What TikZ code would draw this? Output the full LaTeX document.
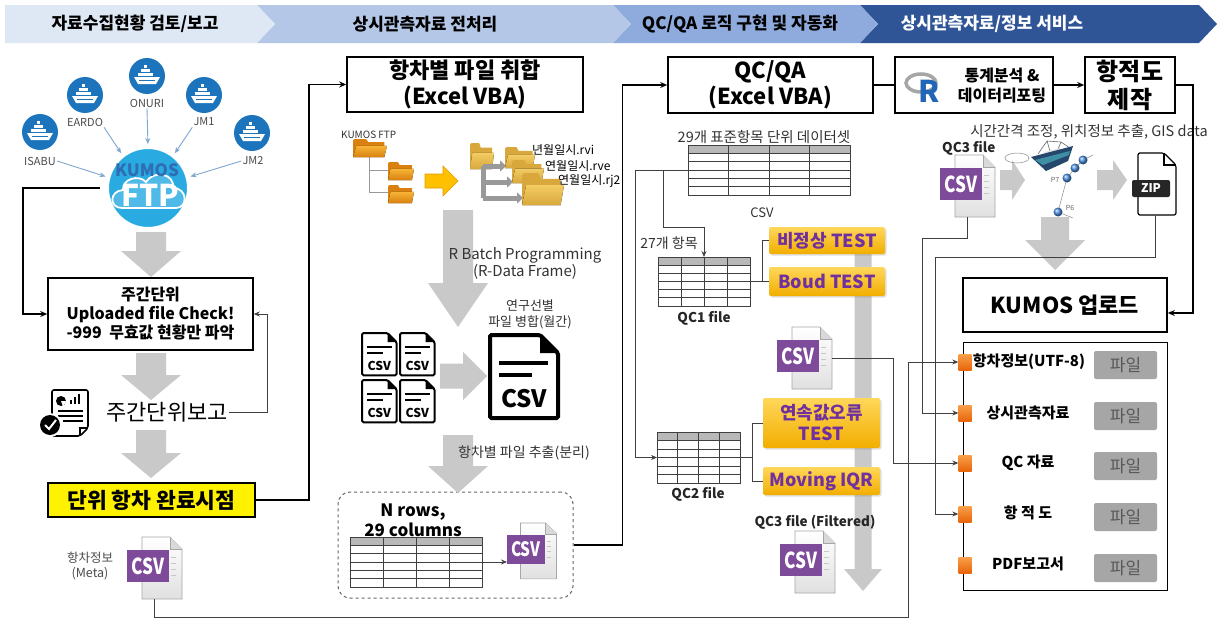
\documentclass[tikz,border=0pt]{standalone}
\usepackage{fontspec}
\usepackage{graphicx}
\setmainfont{Noto Sans CJK KR}
\usetikzlibrary{arrows.meta,calc,shadows}

\definecolor{hdrA}{HTML}{DEE8F5}
\definecolor{hdrB}{HTML}{B4C7E7}
\definecolor{hdrC}{HTML}{8FAADC}
\definecolor{hdrD}{HTML}{2F5597}
\definecolor{shipblue}{HTML}{1C75BC}
\definecolor{ftpblue}{HTML}{29ABE2}
\definecolor{kblue}{HTML}{2E6DB4}
\definecolor{arrgray}{HTML}{C9C9C9}
\definecolor{csvpurple}{HTML}{7E4A9A}
\definecolor{testtop}{HTML}{FFD75A}
\definecolor{testbot}{HTML}{F2AE00}
\definecolor{testtext}{HTML}{7030A0}
\definecolor{sqtop}{HTML}{F9A04A}
\definecolor{sqbot}{HTML}{E8650A}
\definecolor{filegray}{HTML}{A6A6A6}
\definecolor{linkblue}{HTML}{7FA7D0}
\definecolor{folddark}{HTML}{D9800F}
\definecolor{foldlight}{HTML}{F7B437}
\definecolor{tandark}{HTML}{D9A83C}
\definecolor{tanlight}{HTML}{F2CB63}
\definecolor{yarrow}{HTML}{FFC000}
\definecolor{yarrowline}{HTML}{E59A00}
\definecolor{boatdark}{HTML}{24476B}
\definecolor{boatteal}{HTML}{3E8FA3}
\definecolor{dotblue}{HTML}{4A90E2}
\definecolor{rblue}{HTML}{2266B8}

\newcommand\fs[2]{\fontsize{#1}{#2}\selectfont}

% solid grey block arrows
\newcommand\bigdown[7]{% style, x, ytop, ytip, shaft half, head half, head length
  \fill[#1] ({#2-#5},#3) -- ({#2+#5},#3) -- ({#2+#5},{#4-#7}) -- ({#2+#6},{#4-#7})
    -- (#2,#4) -- ({#2-#6},{#4-#7}) -- ({#2-#5},{#4-#7}) -- cycle;}
\newcommand\bigright[7]{% style, xstart, xtip, y, shaft half, head half, head length
  \fill[#1] (#2,{#4-#5}) -- ({#3-#7},{#4-#5}) -- ({#3-#7},{#4-#6}) -- (#3,#4)
    -- ({#3-#7},{#4+#6}) -- ({#3-#7},{#4+#5}) -- (#2,{#4+#5}) -- cycle;}

% grid table with a grey header row
\newcommand\gridtable[7]{% name, x1, y1, x2, y2, columns, rows
  \node[inner sep=0pt,outer sep=0pt,minimum width={(#4)-(#2)},minimum height={(#5)-(#3)},anchor=north west] (#1) at (#2,#3) {};
  \fill[black!28] (#2,#3) rectangle (#4,{#3+((#5)-(#3))/(#7)});
  \foreach \k in {1,...,#7}{\draw[tabline] (#2,{#3+\k*((#5)-(#3))/(#7)}) -- (#4,{#3+\k*((#5)-(#3))/(#7)});}
  \foreach \k in {1,...,#6}{\draw[tabline] ({#2+\k*((#4)-(#2))/(#6)},#3) -- ({#2+\k*((#4)-(#2))/(#6)},#5);}
  \draw[tabline] (#2,#3) rectangle (#4,#5);}

% purple CSV file icon
\newcommand\csvicon[4]{% name, x, y, scale
  \begin{scope}[shift={(#2,#3)},scale=#4]
    \draw[black!35, line width=0.6pt, top color=white, bottom color=black!12] (15,0) -- (43,0) -- (55,12) -- (55,62) -- (15,62) -- cycle;
    \draw[black!35, line width=0.6pt, fill=black!15] (43,0) -- (43,12) -- (55,12);
    \foreach \k in {20,26,32,38}{\draw[black!22, line width=1pt] (44,\k) -- (49,\k);}
    \fill[csvpurple] (0,13) rectangle (42,45);
    \node[transform shape, text=white, font=\bfseries\fs{22}{22}, inner sep=0pt] at (21,29.5) {\scalebox{0.78}[1]{CSV}};
  \end{scope}
  \node[inner sep=0pt, outer sep=0pt, minimum width={55*#4}, minimum height={62*#4}, anchor=north west] (#1) at (#2,#3) {};}

% black outlined CSV document
\newcommand\csvdoc[4]{% x, y, scale, line width
  \begin{scope}[shift={(#1,#2)},scale=#3]
    \draw[line width=#4, rounded corners=1.5pt, fill=white] (0,0) -- (50,0) -- (68,18) -- (68,83) -- (0,83) -- cycle;
    \fill (50,0) -- (68,18) -- (50,18) -- cycle;
    \draw[line width=#4] (9,28) -- (58,28);
    \draw[line width=#4] (9,40) -- (42,40);
    \node[transform shape, font=\bfseries\fs{24}{24}, inner sep=0pt] at (34,64) {CSV};
  \end{scope}}

% folder icon
\newcommand\folder[6]{% x, y, w, h, back colour, front colour
  \fill[#5] (#1,{#2+0.08*#4}) -- (#1,{#2+#4}) -- ({#1+0.92*#3},{#2+#4}) -- ({#1+0.92*#3},{#2+0.18*#4})
     -- ({#1+0.45*#3},{#2+0.18*#4}) -- ({#1+0.38*#3},#2) -- ({#1+0.05*#3},#2) -- cycle;
  \fill[top color=#6, bottom color=#5] ({#1+0.1*#3},{#2+0.38*#4}) -- ({#1+#3},{#2+0.38*#4}) -- ({#1+0.92*#3},{#2+#4}) -- (#1,{#2+#4}) -- cycle;}

% white ship in a blue disc
\newcommand\shipicon[3]{% name, x, y
  \node[circle, fill=shipblue, minimum size=36pt, inner sep=0pt] (#1) at (#2,#3) {};
  \begin{scope}[shift={(#2,#3)}]
    \fill[white] (-13,1) -- (13,1) -- (9,8) -- (-9,8) -- cycle;
    \fill[shipblue] (-8,3.5) rectangle (8,4.6);
    \fill[white] (-9,-3) rectangle (6,0);
    \fill[white] (-6,-7) rectangle (3,-4);
    \fill[white] (-3,-11) rectangle (0,-8);
  \end{scope}}

\tikzset{
  box/.style={draw=black, line width=1.6pt, fill=white, align=center, inner sep=2pt, font=\bfseries\fs{22}{26}},
  flow/.style={draw=black, line width=1.4pt, -{Stealth[length=7pt,width=6pt]}},
  flowplain/.style={draw=black, line width=1.4pt},
  tlink/.style={draw=black!75, line width=0.7pt},
  tarrow/.style={tlink, -{Stealth[length=6pt,width=5pt]}},
  shiplink/.style={draw=linkblue, line width=0.9pt, -{Stealth[length=6pt,width=5pt]}, shorten >=3pt},
  tabline/.style={draw=black!75, line width=0.8pt},
  lbl/.style={font=\fs{11}{13}, text=black!70, inner sep=1pt},
  txt/.style={font=\fs{14.5}{17}, text=black!80, inner sep=1pt, align=center},
  btxt/.style={font=\bfseries\fs{13.5}{16}, text=black!85, inner sep=1pt, align=center},
  testbox/.style={rounded corners=2pt, top color=testtop, bottom color=testbot, text=testtext,
    font=\bfseries\fs{18}{21}, align=center, inner sep=0pt,
    drop shadow={opacity=0.25, shadow xshift=1.5pt, shadow yshift=-1.5pt}},
  sqr/.style={minimum width=13pt, minimum height=16pt, inner sep=0pt, top color=sqtop, bottom color=sqbot},
  filebtn/.style={fill=filegray, rounded corners=2pt, minimum width=63pt, minimum height=28pt, inner sep=0pt,
    text=black!65, font=\fs{17}{19}},
  panlbl/.style={font=\bfseries\fs{15}{17}, inner sep=1pt},
  hdr/.style={font=\bfseries\fs{17}{19}, inner sep=0pt},
}

\begin{document}
\begin{tikzpicture}[x=1pt,y=-1pt]
\useasboundingbox (0,0) rectangle (1219,621);
\fill[white] (0,0) rectangle (1219,621);

% ---------- stage banner ----------
\fill[hdrD] (860,5) -- (1199,5) -- (1217,24) -- (1199,43) -- (860,43) -- (878,24) -- cycle;
\fill[hdrC] (613,5) -- (860,5) -- (878,24) -- (860,43) -- (613,43) -- (631,24) -- cycle;
\fill[hdrB] (257,5) -- (613,5) -- (631,24) -- (613,43) -- (257,43) -- (275,24) -- cycle;
\fill[hdrA] (5,5) -- (257,5) -- (275,24) -- (257,43) -- (5,43) -- cycle;
\node[hdr] (h1) at (135,24) {자료수집현황 검토/보고};
\node[hdr] (h2) at (425,24) {상시관측자료 전처리};
\node[hdr] (h3) at (740,24) {QC/QA 로직 구현 및 자동화};
\node[hdr, text=white] (h4) at (992,24) {상시관측자료/정보 서비스};

% ---------- column 1: collection ----------
\shipicon{isabu}{40}{132}
\shipicon{eardo}{85}{95}
\shipicon{onuri}{147}{76}
\shipicon{jmone}{204}{95}
\shipicon{jmtwo}{252}{133}
\node[lbl] (lisabu) at (40,161) {ISABU};
\node[lbl] (leardo) at (85,122) {EARDO};
\node[lbl] (lonuri) at (147,103) {ONURI};
\node[lbl] (ljmone) at (204,122) {JM1};
\node[lbl] (ljmtwo) at (253,161) {JM2};

\node[circle, fill=ftpblue, draw=white, line width=2pt, minimum size=80pt, inner sep=0pt] (ftp) at (148,188) {};
\draw[white, line width=1.8pt, fill=white, fill opacity=0.18]
  (122,208) .. controls (109,208) and (109,191) .. (123,190)
  .. controls (122,179) and (139,174) .. (146,182)
  .. controls (153,170) and (175,173) .. (173,188)
  .. controls (188,188) and (188,208) .. (176,208) -- cycle;
\node[text=kblue, font=\bfseries\fs{17}{17}, inner sep=0pt] (ftpk) at (147,170) {KUMOS};
\node[text=white, font=\bfseries\fs{30}{30}, inner sep=0pt] (ftpf) at (150,195) {FTP};

\draw[shiplink] (lisabu.east) -- (ftp.165);
\draw[shiplink] (leardo.south east) -- (ftp.128);
\draw[shiplink] (lonuri.south) -- (ftp.north);
\draw[shiplink] (ljmone.south west) -- (ftp.52);
\draw[shiplink] (ljmtwo.west) -- (ftp.15);

\bigdown{arrgray}{151}{232}{277}{15}{30}{26}
\node[box, minimum width=205pt, minimum height=72pt, font=\bfseries\fs{16}{19}] (chk) at (150.5,314)
  {주간단위\\Uploaded file Check!\\-999~~무효값 현황만 파악};
\bigdown{arrgray}{151}{353}{400}{15}{30}{25}

% report icon
\draw[line width=1.6pt, rounded corners=2pt, fill=white] (52,390) -- (88,390) -- (88,428) -- (80,436) -- (52,436) -- cycle;
\draw[line width=1.6pt] (88,428) -- (80,428) -- (80,436);
\fill (61,401) circle (5);
\fill[white] (61,401) -- (66,401) arc[start angle=0, end angle=70, radius=5] -- cycle;
\fill (70,404) rectangle (72,400);
\fill (74,404) rectangle (76,397);
\fill (78,404) rectangle (80,394);
\draw[line width=1.5pt] (58,411) -- (83,411) (58,416) -- (83,416) (63,421) -- (83,421);
\fill[white] (50,425) circle (12);
\fill (50,425) circle (10);
\draw[white, line width=2pt] (45,425) -- (49,429) -- (56,420);
\node[font=\fs{22}{24}, inner sep=1pt] (rpt) at (167,412) {주간단위보고};

\bigdown{arrgray}{151}{430}{478}{15}{30}{25}
\node[draw=black, line width=1.6pt, fill=yellow, minimum width=207pt, minimum height=34pt,
  font=\bfseries\fs{21.5}{24}, inner sep=0pt] (done) at (151.5,500) {단위 항차 완료시점};

\node[lbl, align=center, font=\fs{12.5}{15}] (metalbl) at (90,566) {항차정보\\(Meta)};
\csvicon{metacsv}{127}{537}{1}

\draw[flow] ([xshift=-7pt]ftp.west) -- ++(-77,0) |- (chk.west);
\draw[tarrow] (rpt.east) -- ++(38,0) |- (chk.east);

% ---------- column 2: preprocessing ----------
\node[box, minimum width=236pt, minimum height=55pt] (merge) at (465,84.5) {항차별 파일 취합\\(Excel VBA)};
\draw[flow] (done.east) -- ++(53,0) |- (merge.west);

\node[font=\fs{10}{12}, text=black!80, anchor=west, inner sep=0pt] (ftplbl) at (341,135) {KUMOS FTP};
\draw[black!40, line width=0.8pt] (369,157) -- (369,192) -- (388,192) (369,170) -- (388,170);
\folder{353}{139}{34}{18}{folddark}{foldlight}
\folder{388}{162}{26}{18}{folddark}{foldlight}
\folder{388}{185}{26}{18}{folddark}{foldlight}
\bigright{draw=yarrowline, fill=yarrow, line width=0.6pt}{425}{458}{181}{7}{15}{15}

\folder{470}{143}{24}{26}{tandark}{tanlight}
\draw[line width=5pt, black!40] (483,166) -- (483,198);
\draw[line width=5pt, black!40, -{Triangle[length=6pt,width=11pt]}] (483,166) -- (506,166);
\draw[line width=5pt, black!40, -{Triangle[length=6pt,width=11pt]}] (483,182) -- (513,182);
\draw[line width=5pt, black!40, -{Triangle[length=6pt,width=11pt]}] (483,198) -- (523,198);
\folder{505}{147}{30}{21}{tandark}{tanlight}
\folder{512}{160}{32}{23}{tandark}{tanlight}
\folder{522}{173}{42}{32}{tandark}{tanlight}
\node[font=\fs{12}{13}, anchor=west, inner sep=0pt] (fn1) at (532,150) {년월일시.rvi};
\node[font=\fs{12}{13}, anchor=west, inner sep=0pt] (fn2) at (545,166) {연월일시.rve};
\node[font=\fs{12}{13}, anchor=west, inner sep=0pt] (fn3) at (558,181) {연월일시.rj2};

\bigdown{arrgray}{458}{210}{327}{15}{30}{44}
\node[txt, font=\fs{15}{17}] (rbatch) at (525,263) {R Batch Programming\\(R-Data Frame)};
\node[txt, font=\fs{13}{16}] (mergelbl) at (530,314) {연구선별\\파일 병합(월간)};

\csvdoc{362}{333}{0.51}{2pt}
\csvdoc{400}{333}{0.51}{2pt}
\csvdoc{362}{380}{0.51}{2pt}
\csvdoc{400}{380}{0.51}{2pt}
\bigright{arrgray}{440}{487}{376}{12.5}{24}{24}
\csvdoc{490}{335}{1}{4pt}

\node[draw=black!60, dashed, line width=1pt, rounded corners=12pt, minimum width=235pt, minimum height=106pt] (grp) at (455.5,545) {};
\bigdown{arrgray}{458}{435}{493}{15}{30}{27}
\node[txt, font=\fs{14}{16}] (splitlbl) at (524,453) {항차별 파일 추출(분리)};
\node[font=\bfseries\fs{17}{18}, inner sep=0pt] (nrows) at (413,512) {N rows,};
\node[font=\bfseries\fs{17}{18}, inner sep=0pt] (ncols) at (413,530) {29 columns};
\gridtable{ntab}{350}{537}{482}{587}{4}{6}
\csvicon{nrcsv}{507}{523}{0.9}
\draw[tarrow] (ntab.east) -- (ntab.east -| nrcsv.west);

% ---------- column 3: QC/QA ----------
\node[box, minimum width=205pt, minimum height=56pt] (qcbox) at (770.5,85) {QC/QA\\(Excel VBA)};
\draw[flow] (grp.east) -- ++(49,0) |- (qcbox.west);
\node[txt] (dslbl) at (764,137) {29개 표준항목 단위 데이터셋};
\gridtable{tab1}{688}{145}{850}{195}{4}{6}
\node[txt, font=\fs{13}{15}] (csvlbl) at (762,213) {CSV};
\node[txt, font=\fs{14}{16}] (lbl27) at (669,243) {27개 항목};
\gridtable{qc1}{658}{257}{750}{306}{4}{6}
\node[btxt] (qc1lbl) at (704,318) {QC1 file};
\gridtable{qc2}{657}{432}{740}{483}{4}{6}
\node[btxt] (qc2lbl) at (698,494) {QC2 file};

\bigdown{arrgray}{863}{245}{591}{8.5}{19}{22}
\node[testbox, minimum width=116pt, minimum height=27pt] (tone) at (827,240.5) {비정상 TEST};
\node[testbox, minimum width=116pt, minimum height=29pt] (ttwo) at (827,281.5) {Boud TEST};
\node[testbox, minimum width=117pt, minimum height=50pt] (tthree) at (821.5,423) {연속값오류\\TEST};
\node[testbox, minimum width=117pt, minimum height=28pt] (tfour) at (821.5,481) {Moving IQR};

\csvicon{qccsv}{777}{327}{1}
\node[btxt] (qc3lbl) at (815,522) {QC3 file (Filtered)};
\csvicon{qcthree}{780}{531}{1}

\draw[tarrow] (tab1.west) -- ++(-53,0) |- (qc2.west);
\draw[tarrow] ($(tab1.west)+(-25,0)$) |- (704,227) -- (qc1.north);
\draw[tlink] (qc1.east) -- (ttwo.west);
\draw[tlink] (762,281.5) |- (tone.west);
\draw[tlink] (qc2.east) -- ++(12,0) coordinate (bq) |- (tthree.west);
\draw[tlink] (bq) |- (tfour.west);

% ---------- column 4: service ----------
\node[box, minimum width=158pt, minimum height=56pt] (rbox) at (974,85) {};
\draw[black!35, line width=3.5pt] (921,83) ellipse (15 and 9);
\node[text=rblue, font=\bfseries\fs{30}{30}, inner sep=0pt] (rlogo) at (929,91) {R};
\node[font=\bfseries\fs{16}{20}, align=center, inner sep=0pt] (rtxt) at (1002,86) {통계분석 \&\\데이터리포팅};
\node[box, minimum width=90pt, minimum height=56pt, font=\bfseries\fs{24}{28}] (trk) at (1130,85) {항적도\\제작};
\draw[flowplain] (qcbox.east) -- (rbox.west);
\draw[flow] (rbox.east) -- (trk.west);

\node[txt] (gislbl) at (1089,132) {시간간격 조정, 위치정보 추출, GIS data};
\node[btxt, anchor=west] (qc3f) at (941,148) {QC3 file};
\csvicon{gcsv}{940}{155}{1.0}
\bigright{arrgray}{1000}{1025}{180}{10}{20}{13}

% track sketch
\draw[black!45, line width=0.5pt] (1017,158) ellipse (12 and 5);
\draw[black!45, line width=0.5pt] (1093,155) -- (1083,160) -- (1075,168) -- (1067,178) -- (1058,212) -- (1073,218);
\draw[black!60, line width=0.6pt] (1050,151) -- (1047,141) (1058,149) -- (1061,142) (1047,141) -- (1038,154) (1061,142) -- (1070,148) (1047,141) -- (1061,142);
\fill[black!10] (1044,152) -- (1060,148) -- (1062,155) -- (1047,158) -- cycle;
\fill[boatdark] (1031,157) -- (1073,146) -- (1068,161) -- (1046,171) -- cycle;
\fill[boatteal] (1035,160) -- (1070,151) -- (1069,155) -- (1043,165) -- cycle;
\foreach \px/\py in {1083/160, 1075/168, 1067/178, 1058/212}{\shade[ball color=dotblue] (\px,\py) circle (4.5);}
\node[font=\fs{7}{8}, text=black!60, inner sep=0pt] (pseven) at (1055,180) {P7};
\node[font=\fs{7}{8}, text=black!60, inner sep=0pt] (psix) at (1070,208) {P6};

\bigright{arrgray}{1097}{1127}{180}{10}{20}{14}
\node[inner sep=0pt, minimum width=44pt, minimum height=63pt] (zip) at (1155,184) {};
\draw[line width=1.2pt, rounded corners=2pt, fill=white] (1138,153) -- (1164,153) -- (1176,165) -- (1176,215) -- (1138,215) -- cycle;
\draw[line width=1.2pt] (1164,153) -- (1164,165) -- (1176,165);
\fill[black!85, rounded corners=2pt] (1132,180) rectangle (1170,197);
\node[text=white, font=\bfseries\fs{12}{12}, inner sep=0pt] (ziptxt) at (1151,188.5) {ZIP};

\bigdown{arrgray}{1055}{217}{270}{14}{30}{30}
\node[box, minimum width=204pt, minimum height=54pt] (up) at (1065,305) {KUMOS 업로드};
\draw[flow] (trk.east) -- ++(17,0) |- ([yshift=-8pt]up.east);

\node[draw=black, line width=1pt, minimum width=204pt, minimum height=248pt] (panel) at (1065,466) {};
\foreach \i/\y in {1/362, 2/413, 3/463, 4/514, 5/565}{
  \node[filebtn] (fb\i) at (1125.5,{\y+3}) {파일};
  \node[sqr] (sq\i) at (965,\y) {};
}
\node[panlbl] (pl1) at (1029,362) {항차정보(UTF-8)};
\node[panlbl] (pl2) at (1028,413) {상시관측자료};
\node[panlbl] (pl3) at (1028,463) {QC 자료};
\node[panlbl] (pl4) at (1028,513) {항 적 도};
\node[panlbl] (pl5) at (1028,564) {PDF보고서};

% delivery links
\draw[tarrow] (qccsv.east) -- ++(61,0) |- (sq3.west);
\draw[tarrow] (gcsv.south) |- (922,238) |- (sq2.west);
\draw[tarrow] (zip.south) |- (935,257) |- (sq4.west);
\draw[tarrow] (metacsv.south) |- (908,617) |- (sq1.west);
\end{tikzpicture}
\end{document}
